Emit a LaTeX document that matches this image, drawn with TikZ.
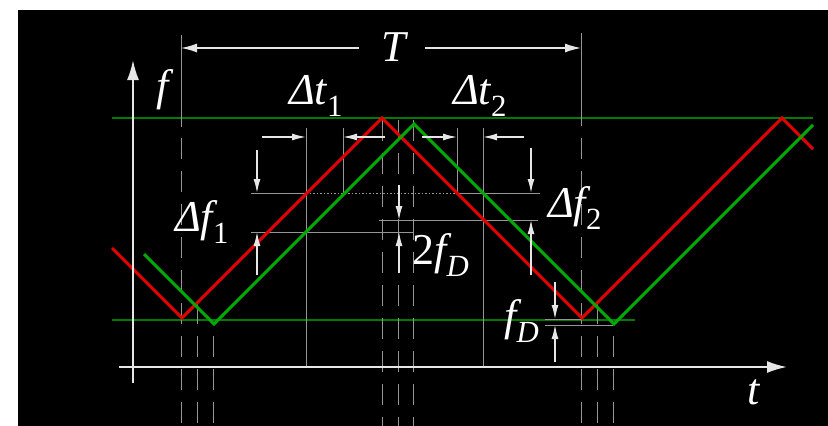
\documentclass[tikz,border=0pt]{standalone}
\usepackage{fontspec}
\setmainfont{Liberation Serif}
\usetikzlibrary{arrows.meta}
\definecolor{redw}{RGB}{225,0,0}
\definecolor{greenw}{RGB}{0,170,0}
\definecolor{greenl}{RGB}{0,125,0}
\definecolor{grayl}{RGB}{150,150,150}
\definecolor{axisc}{RGB}{230,230,230}
\begin{document}
\begin{tikzpicture}[x=1pt,y=-1pt,
  guide/.style={grayl,line width=1pt},
  dguide/.style={grayl,line width=1pt,dash pattern=on 21pt off 12pt},
  dotguide/.style={grayl,line width=1pt,dash pattern=on 1.5pt off 2pt},
  axisline/.style={axisc,line width=2pt,-{Latex[length=20pt,width=12pt]}},
  dimT/.style={axisc,line width=1.4pt,-{Latex[length=16pt,width=9pt]}},
  dimarrow/.style={axisc,line width=1.4pt,-{Latex[length=14pt,width=7pt]}},
  refline/.style={greenl,line width=2pt},
  sigred/.style={redw,line width=3pt,line join=miter},
  siggreen/.style={greenw,line width=3pt,line join=miter},
  lab/.style={text=white,inner sep=0pt,font=\fontsize{44}{50}\selectfont\itshape}]
\useasboundingbox (0,0) rectangle (828,426);
\fill[white] (0,0) rectangle (828,426);
\fill[black] (18,10) rectangle (828,426);

% reference green lines
\draw[refline] (112,118) -- (813,118);
\draw[refline] (112,320) -- (635,320);

% dashed verticals
\draw[guide] (181,35) -- (181,127);
\draw[guide] (581,33) -- (581,126);
\draw[dguide] (181,138) -- (181,426);
\draw[dguide] (197,303) -- (197,426);
\draw[dguide] (213,336) -- (213,426);
\draw[dguide] (382,120) -- (382,426);
\draw[dguide] (398,120) -- (398,426);
\draw[dguide] (413,120) -- (413,426);
\draw[dguide] (581,138) -- (581,426);
\draw[dguide] (597,303) -- (597,426);
\draw[dguide] (613,336) -- (613,426);

% solid guide lines
\draw[guide] (306,128) -- (306,367);
\draw[guide] (343,128) -- (343,193);
\draw[guide] (457,128) -- (457,193);
\draw[guide] (483,128) -- (483,367);
\draw[guide] (251,193) -- (306,193);
\draw[dotguide] (306,193) -- (457,193);
\draw[guide] (457,193) -- (540,193);
\draw[guide] (251,232) -- (413,232);
\draw[guide] (379,220) -- (538,220);
\draw[guide] (545,319) -- (581,319);
\draw[guide] (545,325) -- (613,325);

% signals
\draw[sigred] (112,248) -- (182,318) -- (382,118) -- (582,318) -- (782,118) -- (813,149);
\draw[siggreen] (144,254) -- (214,324) -- (414,124) -- (614,324) -- (813,125);

% axes
\draw[axisline] (133,383) -- (133,60);
\draw[axisline] (119,367) -- (787,367);

% T dimension
\node[lab] (T) at (394,47) {T};
\draw[dimT] (359,48) -- (181,48);
\draw[dimT] (425,48) -- (581,48);

% delta t arrows
\draw[dimarrow] (262,137) -- (306,137);
\draw[dimarrow] (385,137) -- (343,137);
\draw[dimarrow] (422,137) -- (457,137);
\draw[dimarrow] (524,137) -- (483,137);

% delta f arrows
\draw[dimarrow] (257,150) -- (257,193);
\draw[dimarrow] (257,275) -- (257,232);
\draw[dimarrow] (531,148) -- (531,193);
\draw[dimarrow] (531,275) -- (531,220);
\draw[dimarrow] (399,185) -- (399,220);
\draw[dimarrow] (399,273) -- (399,232);
\draw[dimarrow] (555,282) -- (555,319);
\draw[dimarrow] (555,362) -- (555,325);

% labels
\node[lab] (f) at (163,90) {f};
\node[lab] (t) at (754,392) {t};
\node[lab] (dt1) at (316,96) {Δt\textsubscript{\upshape 1}};
\node[lab] (dt2) at (480,96) {Δt\textsubscript{\upshape 2}};
\node[lab] (df1) at (202,222) {Δf\textsubscript{\upshape 1}};
\node[lab] (df2) at (575,208) {Δf\textsubscript{\upshape 2}};
\node[lab] (twofd) at (441,255) {{\upshape 2}f\textsubscript{D}};
\node[lab] (fd) at (522,321) {f\textsubscript{D}};
\end{tikzpicture}
\end{document}
